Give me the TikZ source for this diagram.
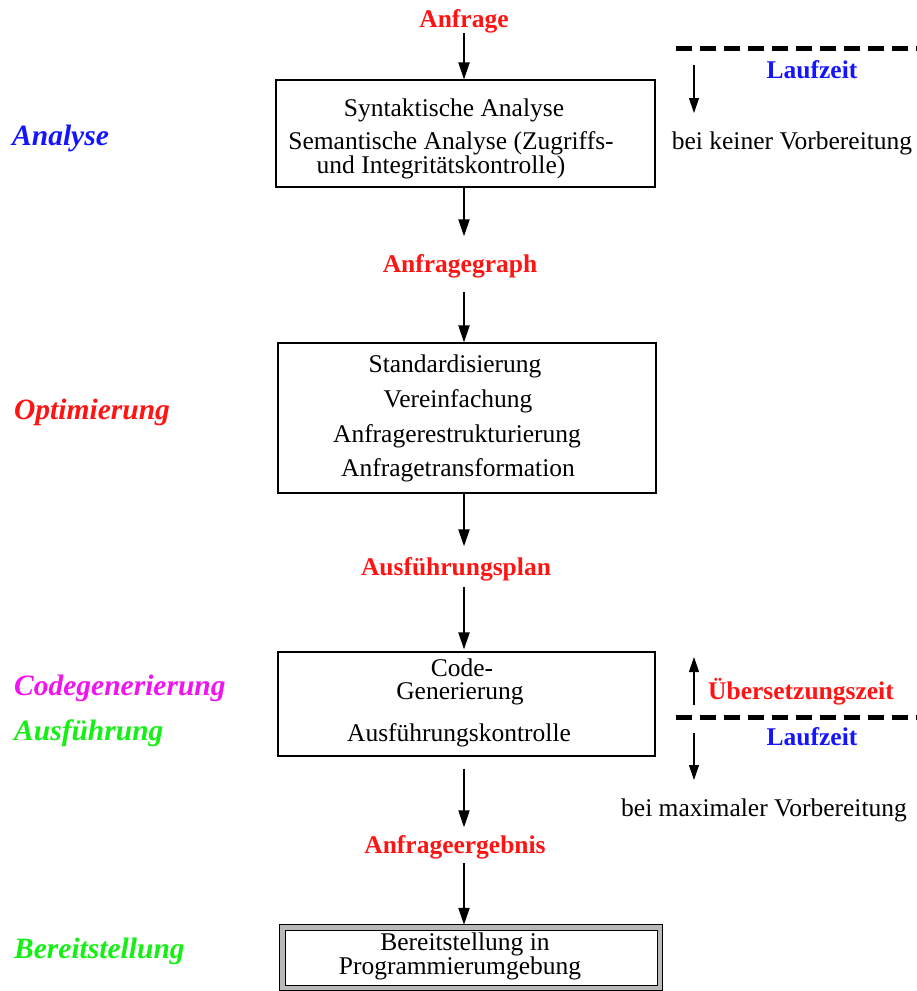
\documentclass[tikz,border=0pt]{standalone}
\usepackage{fontspec}
\setmainfont{Liberation Serif}
\usetikzlibrary{arrows.meta}
\definecolor{cred}{RGB}{255,20,20}
\definecolor{cblue}{RGB}{20,20,255}
\definecolor{cgreen}{RGB}{20,240,20}
\definecolor{cmag}{RGB}{240,20,240}
\tikzset{
  txt/.style={inner sep=0pt, font=\fontsize{25.5}{28}\selectfont},
  lab/.style={inner sep=0pt, font=\fontsize{25.5}{28}\selectfont\bfseries, text=cred},
  side/.style={inner sep=0pt, anchor=west, font=\fontsize{29.5}{32}\selectfont\bfseries\itshape},
  box/.style={draw, line width=1.2pt, inner sep=0pt},
  arr/.style={line width=2pt, -{Triangle[length=17pt,width=11pt]}},
  sarr/.style={line width=1.2pt, -{Triangle[length=15pt,width=10pt]}},
  dline/.style={line width=5pt, dash pattern=on 16pt off 8pt},
}
\begin{document}
\begin{tikzpicture}[x=1pt,y=-1pt]
\useasboundingbox (0,0) rectangle (917,991);
\fill[white] (0,0) rectangle (917,991);

% main column
\node[lab, anchor=base] (q) at (464,27.5) {Anfrage};
\node[box, minimum width=379pt, minimum height=107pt] (b1) at (465.5,133.5) {};
\node[txt, anchor=base] (t11) at (454,116.5) {Syntaktische Analyse};
\node[txt, anchor=base] (t12) at (451,149.5) {Semantische Analyse (Zugriffs-};
\node[txt, anchor=base] (t13) at (441,173.5) {und Integritätskontrolle)};

\node[lab, anchor=base] (g) at (460,272.5) {Anfragegraph};

\node[box, minimum width=378pt, minimum height=150pt] (b2) at (467,418) {};
\node[txt, anchor=base] (t21) at (455,372.5) {Standardisierung};
\node[txt, anchor=base] (t22) at (458,407.5) {Vereinfachung};
\node[txt, anchor=base] (t23) at (457,442.5) {Anfragerestrukturierung};
\node[txt, anchor=base] (t24) at (458,476.5) {Anfragetransformation};

\node[lab, anchor=base] (p) at (456,575.5) {Ausführungsplan};

\node[box, minimum width=377pt, minimum height=104pt] (b3) at (466.5,704) {};
\node[txt, anchor=base] (t31) at (462,676) {Code-};
\node[txt, anchor=base] (t32) at (460,699.5) {Generierung};
\node[txt, anchor=base] (t33) at (459,741.5) {Ausführungskontrolle};

\node[lab, anchor=base] (e) at (455,853.5) {Anfrageergebnis};

% hatched box
\node[inner sep=0pt, minimum width=382pt, minimum height=65pt] (b4) at (471,957.5) {};
\fill[gray!55] (b4.north west) rectangle (b4.south east);
\fill[white] ([shift={(5,5)}]b4.north west) rectangle ([shift={(-5,-5)}]b4.south east);
\draw[line width=0.7pt] (b4.north west) rectangle (b4.south east);
\draw[line width=0.5pt] ([shift={(5,5)}]b4.north west) rectangle ([shift={(-5,-5)}]b4.south east);
\node[txt, anchor=base] (t41) at (465,950.5) {Bereitstellung in};
\node[txt, anchor=base] (t42) at (460,974.5) {Programmierumgebung};

% main arrows
\draw[arr] (q.south) -- (q.south |- b1.north);
\draw[arr, shorten >=18pt] (b1.south -| q) -- (g.north -| q);
\draw[arr, shorten <=14pt] (g.south -| q) -- (b2.north -| q);
\draw[arr, shorten >=11pt] (b2.south -| q) -- (p.north -| q);
\draw[arr, shorten <=6pt, shorten >=2pt] (p.south -| q) -- (b3.north -| q);
\draw[arr, shorten <=12pt, shorten >=8pt] (b3.south -| q) -- (e.north -| q);
\draw[arr, shorten <=4pt] (e.south -| q) -- (b4.north -| q);

% side labels
\node[side, text=cblue] (s1) at (12,138.5) {Analyse};
\node[side, text=cred] (s2) at (14,412.5) {Optimierung};
\node[side, text=cmag] (s3) at (14,688.5) {Codegenerierung};
\node[side, text=cgreen] (s4) at (14,733.5) {Ausführung};
\node[side, text=cgreen] (s5) at (14,951.5) {Bereitstellung};

% right side top
\coordinate (d1a) at (676,48);
\coordinate (d1b) at (917,48);
\draw[dline] (d1a) -- (d1b);
\node[lab, text=cblue, anchor=base] (lz1) at (812,78.5) {Laufzeit};
\coordinate (a1s) at (694,65);
\coordinate (a1e) at (694,113);
\draw[sarr] (a1s) -- (a1e);
\node[txt, anchor=base] (k1) at (792,149.5) {bei keiner Vorbereitung};

% right side bottom
\coordinate (a2s) at (694,705);
\coordinate (a2e) at (694,657);
\draw[sarr] (a2s) -- (a2e);
\node[lab, anchor=base] (ue) at (801,699.5) {Übersetzungszeit};
\coordinate (d2a) at (676,717);
\coordinate (d2b) at (917,717);
\draw[dline] (d2a) -- (d2b);
\node[lab, text=cblue, anchor=base] (lz2) at (812,745.5) {Laufzeit};
\coordinate (a3s) at (694,733);
\coordinate (a3e) at (694,780);
\draw[sarr] (a3s) -- (a3e);
\node[txt, anchor=base] (k2) at (764,816.5) {bei maximaler Vorbereitung};
\end{tikzpicture}
\end{document}
